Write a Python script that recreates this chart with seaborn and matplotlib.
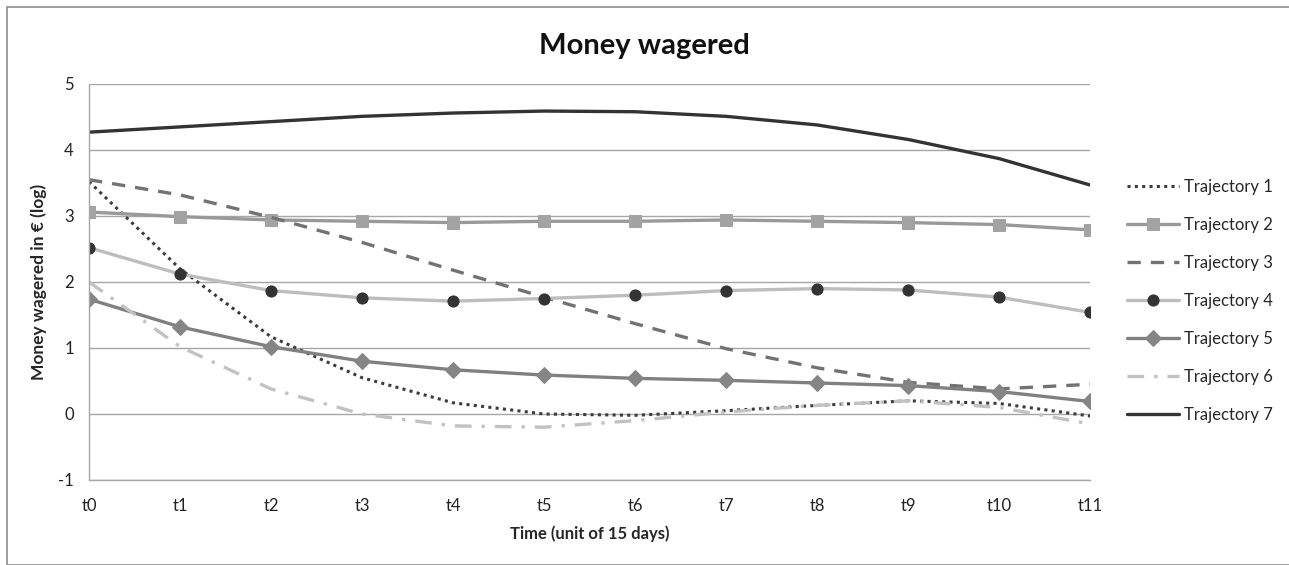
import matplotlib.pyplot as plt
import matplotlib.patches as patches
import pandas as pd
import seaborn as sns

# Values (log of money wagered)
times = ['t0', 't1', 't2', 't3', 't4', 't5', 't6', 't7', 't8', 't9', 't10', 't11']
traj1 = [3.52, 2.20, 1.17, 0.55, 0.17, 0.00, -0.02, 0.05, 0.13, 0.20, 0.16, -0.03]
traj2 = [3.06, 2.99, 2.94, 2.92, 2.90, 2.92, 2.92, 2.94, 2.92, 2.90, 2.87, 2.79]
traj3 = [3.55, 3.32, 2.98, 2.60, 2.18, 1.77, 1.37, 0.99, 0.70, 0.48, 0.38, 0.45]
traj4 = [2.52, 2.12, 1.87, 1.76, 1.71, 1.75, 1.80, 1.87, 1.90, 1.88, 1.77, 1.54]
traj5 = [1.74, 1.32, 1.02, 0.80, 0.67, 0.59, 0.54, 0.51, 0.47, 0.43, 0.34, 0.19]
traj6 = [2.00, 1.02, 0.38, 0.00, -0.18, -0.20, -0.10, 0.03, 0.13, 0.20, 0.10, -0.15]
traj7 = [4.27, 4.35, 4.43, 4.51, 4.56, 4.59, 4.58, 4.51, 4.38, 4.16, 3.87, 3.47]

series = {
    'Trajectory 1': traj1,
    'Trajectory 2': traj2,
    'Trajectory 3': traj3,
    'Trajectory 4': traj4,
    'Trajectory 5': traj5,
    'Trajectory 6': traj6,
    'Trajectory 7': traj7,
}

# line style per trajectory: color, linestyle, marker, marker color
styles = {
    'Trajectory 1': dict(color='#3c3c3c', ls=(0, (1, 1.4)), lw=2.2, marker=None, mc=None, ms=0),
    'Trajectory 2': dict(color='#999999', ls='-', lw=2.4, marker='s', mc='#a3a3a3', ms=8),
    'Trajectory 3': dict(color='#727272', ls=(0, (4, 3)), lw=2.4, marker=None, mc=None, ms=0),
    'Trajectory 4': dict(color='#bdbdbd', ls='-', lw=2.4, marker='o', mc='#333333', ms=8),
    'Trajectory 5': dict(color='#808080', ls='-', lw=2.4, marker='D', mc='#858585', ms=8),
    'Trajectory 6': dict(color='#c2c2c2', ls=(0, (5, 3, 1, 3)), lw=2.4, marker=None, mc=None, ms=0),
    'Trajectory 7': dict(color='#333333', ls='-', lw=2.4, marker=None, mc=None, ms=0),
}

df = pd.DataFrame(series)
df['time'] = range(len(times))

sns.set_style('white')
plt.rcParams['font.family'] = ['Lato', 'DejaVu Sans']
plt.rcParams['axes.unicode_minus'] = False

fig = plt.figure(figsize=(12.89, 5.65), dpi=100)
ax = fig.add_axes([89 / 1289, 85 / 565, 1001 / 1289, 396 / 565])

for name in series:
    st = styles[name]
    sns.lineplot(data=df, x='time', y=name, ax=ax, color=st['color'],
                 linestyle=st['ls'], linewidth=st['lw'], marker=st['marker'],
                 markersize=st['ms'], markerfacecolor=st['mc'],
                 markeredgecolor=st['mc'], label=name)

ax.set_xlim(0, 11)
ax.set_ylim(-1, 5)
ax.set_xticks(range(len(times)))
ax.set_xticklabels(times)
ax.set_yticks(range(-1, 6))
ax.yaxis.grid(True, color='#a6a6a6', linewidth=1.0)
ax.xaxis.grid(False)
ax.set_axisbelow(True)

for side in ['top', 'right']:
    ax.spines[side].set_visible(False)
for side in ['left', 'bottom']:
    ax.spines[side].set_color('#a6a6a6')
    ax.spines[side].set_linewidth(1.0)

ax.tick_params(axis='both', which='major', direction='out', length=6, width=1,
               color='#a6a6a6', labelsize=12, labelcolor='#222222', pad=5)
ax.tick_params(axis='x', pad=7)

ax.set_xlabel('Time (unit of 15 days)', fontsize=12, fontweight='bold', labelpad=8)
ax.set_ylabel('Money wagered in € (log)', fontsize=12.5, fontweight='bold', labelpad=8)

fig.text(0.5, 0.918, 'Money wagered', ha='center', va='center',
         fontsize=21, fontweight='bold', color='#111111')

ax.legend(loc='center left', bbox_to_anchor=(1.022, 0.452), frameon=False,
          fontsize=12, handlelength=3.1, labelspacing=1.32, handletextpad=0.3)

# outer chart frame
fig.patches.append(patches.Rectangle((7 / 1289, 0), 1.5, (565 - 7) / 565,
                                     transform=fig.transFigure, fill=False,
                                     edgecolor='#8c8c8c', linewidth=1.2))

fig.savefig('out.png', dpi=100)
